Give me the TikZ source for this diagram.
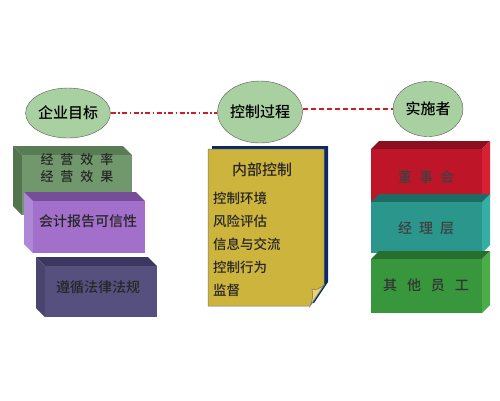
\documentclass[tikz,border=0pt]{standalone}
\usepackage{fontspec}
\setmainfont{Noto Sans CJK SC}[BoldFont={Noto Sans CJK SC Medium}]
\usetikzlibrary{shapes,positioning}

\definecolor{goalgreen}{RGB}{168,208,160}
\definecolor{linkred}{RGB}{205,30,40}
\definecolor{effFront}{RGB}{112,152,108}
\definecolor{effTop}{RGB}{88,124,84}
\definecolor{effSide}{RGB}{82,116,78}
\definecolor{repFront}{RGB}{162,112,202}
\definecolor{repTop}{RGB}{118,78,152}
\definecolor{repSide}{RGB}{175,135,215}
\definecolor{lawFront}{RGB}{86,80,126}
\definecolor{lawTop}{RGB}{60,55,96}
\definecolor{lawSide}{RGB}{74,69,112}
\definecolor{boardFront}{RGB}{190,22,40}
\definecolor{boardTop}{RGB}{140,15,30}
\definecolor{boardSide}{RGB}{215,32,52}
\definecolor{mgrFront}{RGB}{42,150,140}
\definecolor{mgrTop}{RGB}{30,106,100}
\definecolor{mgrSide}{RGB}{52,175,165}
\definecolor{staffFront}{RGB}{56,150,60}
\definecolor{staffTop}{RGB}{40,110,45}
\definecolor{staffSide}{RGB}{75,172,72}
\definecolor{noteYellow}{RGB}{205,180,60}
\definecolor{noteFold}{RGB}{232,212,112}
\definecolor{noteBack}{RGB}{14,40,100}

\newcommand{\cgap}{\hspace{7pt}}

\begin{document}
\begin{tikzpicture}[x=1pt, y=-1pt,
    goal/.style={ellipse, draw=black!65, fill=goalgreen, inner sep=0pt, font=\fontsize{15}{15}\selectfont\bfseries},
    blocktext/.style={font=\fontsize{14}{17}\selectfont\bfseries, text=black!85, align=center},
    itemtext/.style={font=\fontsize{13.5}{14}\selectfont\bfseries, text=black!85, anchor=west, inner sep=0pt}]
    \useasboundingbox (0,0) rectangle (500,400);

    % Define nodes
    \node[goal, minimum width=70pt, minimum height=50pt] (goal) at (68,113) {企业目标};
    \node[goal, minimum width=68pt, minimum height=62pt] (proc) at (260,112) {控制过程};
    \node[goal, minimum width=70pt, minimum height=55pt] (actor) at (428,109) {实施者};

    % Links between the circles
    \coordinate (procW) at (goal -| proc.west);
    \coordinate (procE) at (actor -| proc.east);
    \draw[color=linkred, line width=1.8pt, dash pattern=on 5pt off 2.5pt on 1.5pt off 2.5pt] (goal) -- (procW);
    \draw[color=linkred, line width=1.8pt, dash pattern=on 5pt off 3pt] (procE) -- (actor);

    % Left blocks (seen from the upper left)
    \fill[effTop] (22,155) -- (13,146) -- (123,146) -- (132,155) -- cycle;
    \fill[effSide] (22,155) -- (13,146) -- (13,206) -- (22,215) -- cycle;
    \fill[effFront] (22,155) rectangle (132,215);
    \node[blocktext, font=\fontsize{13}{17}\selectfont\bfseries] (eff) at (77,168.5) {经\cgap 营\cgap 效\cgap 率\\经\cgap 营\cgap 效\cgap 果};

    \fill[repTop] (33,201) -- (24,192) -- (136,192) -- (145,201) -- cycle;
    \fill[repSide] (33,201) -- (24,192) -- (24,244) -- (33,253) -- cycle;
    \fill[repFront] (33,201) rectangle (145,253);
    \node[blocktext] (rep) at (88,221) {会计报告可信性};

    \fill[lawTop] (45,266) -- (36,257) -- (148,257) -- (157,266) -- cycle;
    \fill[lawSide] (45,266) -- (36,257) -- (36,308) -- (45,317) -- cycle;
    \fill[lawFront] (45,266) rectangle (157,317);
    \node[blocktext] (law) at (98,287) {遵循法律法规};

    % Note page in the middle
    \fill[noteBack] (212,146) -- (328,146) -- (328,282) -- (314,303) -- (212,303) -- cycle;
    \filldraw[fill=noteYellow, draw=black!55, line width=0.5pt]
        (208,149) -- (324,149) -- (324,285) -- (310,306) -- (208,306) -- cycle;
    \filldraw[fill=noteFold, draw=black!55, line width=0.5pt]
        (310,306) .. controls (313,298) .. (312,289) .. controls (316,291) and (320,288) .. (324,285) -- cycle;
    \node[font=\fontsize{15}{15}\selectfont\bfseries, text=black!85] (ctrl) at (262,170) {内部控制};
    \node[itemtext] (env) at (213,198) {控制环境};
    \node[itemtext] (risk) at (213,221) {风险评估};
    \node[itemtext] (info) at (213,244) {信息与交流};
    \node[itemtext] (act) at (213,267) {控制行为};
    \node[itemtext] (mon) at (213,290) {监督};

    % Right blocks (seen from the upper right)
    \fill[boardTop] (371,149) -- (379,141) -- (490,141) -- (482,149) -- cycle;
    \fill[boardSide] (482,149) -- (490,141) -- (490,197) -- (482,205) -- cycle;
    \fill[boardFront] (371,149) rectangle (482,205);
    \node[blocktext, text=black!75] (board) at (426,177) {董\cgap 事\cgap 会};

    \fill[mgrTop] (371,202) -- (379,194) -- (490,194) -- (482,202) -- cycle;
    \fill[mgrSide] (482,202) -- (490,194) -- (490,245) -- (482,253) -- cycle;
    \fill[mgrFront] (371,202) rectangle (482,253);
    \node[blocktext, text=black!75] (mgr) at (426,228) {经\cgap 理\cgap 层};

    \fill[staffTop] (371,259) -- (379,251) -- (490,251) -- (482,259) -- cycle;
    \fill[staffSide] (482,259) -- (490,251) -- (490,305) -- (482,313) -- cycle;
    \fill[staffFront] (371,259) rectangle (482,313);
    \node[blocktext, text=black!80] (staff) at (426,285) {其\hspace{10pt}他\hspace{10pt}员\hspace{10pt}工};
\end{tikzpicture}
\end{document}
